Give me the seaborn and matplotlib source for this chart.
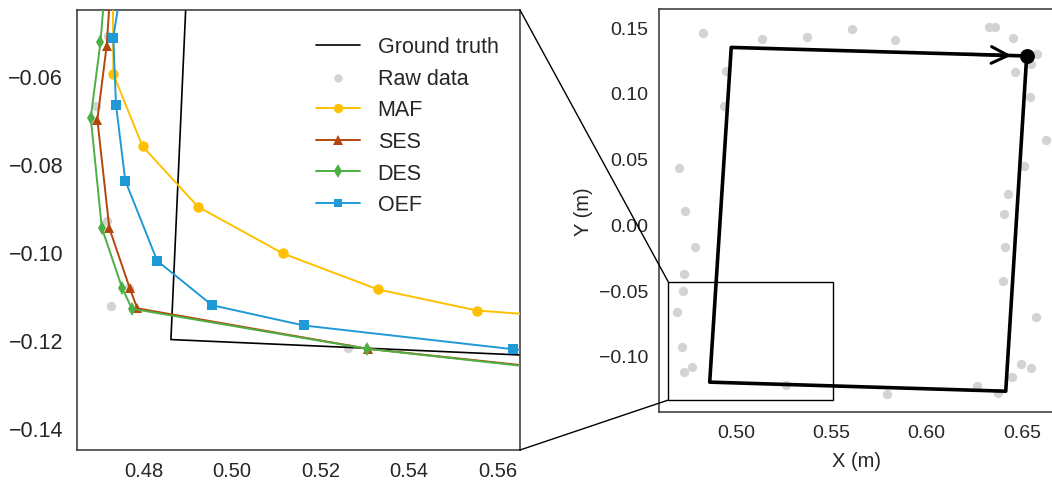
import numpy as np
import pandas as pd
import matplotlib
matplotlib.use("Agg")
import matplotlib.pyplot as plt
from matplotlib.patches import Rectangle, ConnectionPatch
import seaborn as sns

# ---- data -------------------------------------------------------------
# Ground-truth square path (x, y in metres), starting at the top-right corner
gt_x = [0.6525, 0.6415, 0.4862, 0.4975, 0.6525]
gt_y = [0.1280, -0.1268, -0.1199, 0.1345, 0.1280]

# Raw position samples
raw_x = [0.4825, 0.5135, 0.5374, 0.4946, 0.4937, 0.4699, 0.4733, 0.4785,
         0.5608, 0.5832, 0.6328, 0.6360, 0.6454, 0.6577, 0.6547, 0.6465,
         0.6542, 0.6627, 0.6509, 0.6425, 0.6407, 0.6411, 0.4729, 0.4720,
         0.4692, 0.4717, 0.4768, 0.4727, 0.5261, 0.6399, 0.6575, 0.6493,
         0.6550, 0.6449, 0.6264, 0.6376, 0.5792]
raw_y = [0.1454, 0.1409, 0.1422, 0.1166, 0.0897, 0.0426, 0.0104, -0.0174,
         0.1483, 0.1399, 0.1498, 0.1498, 0.1414, 0.1293, 0.1219, 0.1160,
         0.0970, 0.0644, 0.0441, 0.0231, 0.0081, -0.0174, -0.0375, -0.0508,
         -0.0668, -0.0929, -0.1081, -0.1122, -0.1218, -0.0430, -0.0706, -0.1059,
         -0.1091, -0.1160, -0.1228, -0.1279, -0.1289]

# Filtered estimates around the bottom-left corner
maf_x = [0.4731, 0.4732, 0.4798, 0.4923, 0.5114, 0.5329, 0.5553, 0.5780]
maf_y = [-0.0400, -0.0596, -0.0760, -0.0897, -0.1003, -0.1085, -0.1133, -0.1150]

ses_x = [0.4729, 0.4717, 0.4696, 0.4723, 0.4769, 0.4786, 0.5307, 0.5800]
ses_y = [-0.0350, -0.0531, -0.0699, -0.0946, -0.1082, -0.1128, -0.1220, -0.1273]

des_x = [0.4717, 0.4703, 0.4681, 0.4706, 0.4752, 0.4774, 0.5305, 0.5800]
des_y = [-0.0350, -0.0523, -0.0695, -0.0945, -0.1082, -0.1129, -0.1220, -0.1275]

oef_x = [0.4757, 0.4732, 0.4738, 0.4759, 0.4831, 0.4955, 0.5162, 0.5635, 0.5850]
oef_y = [-0.0350, -0.0513, -0.0665, -0.0838, -0.1020, -0.1121, -0.1167, -0.1221, -0.1245]

# Zoomed region marked on the overview
zoom_x = [0.4645, 0.5510]
zoom_y = [-0.1335, -0.0438]

# Tick labels
left_xticks = [0.48, 0.50, 0.52, 0.54, 0.56]
left_yticks = [-0.14, -0.12, -0.10, -0.08, -0.06]
right_xticks = [0.50, 0.55, 0.60, 0.65]
right_yticks = [-0.10, -0.05, 0.00, 0.05, 0.10, 0.15]

# ---- style ------------------------------------------------------------
sns.set_style("white")
plt.rcParams["font.family"] = ["Liberation Sans", "DejaVu Sans"]
plt.rcParams["axes.unicode_minus"] = True
text_col = "#262626"
spine_col = "#333333"

C_MAF = "#FFC000"
C_SES = "#B5460B"
C_DES = "#4DAF44"
C_OEF = "#1F9AD6"
C_RAW = "#D3D3D3"

fig = plt.figure(figsize=(10.52, 4.85), dpi=100)
axL = fig.add_axes([77 / 1052, 34 / 485, 443 / 1052, 440 / 485])
axR = fig.add_axes([659 / 1052, 72 / 485, 394 / 1052, 403 / 485])

# ---- left: zoomed view ------------------------------------------------
sns.lineplot(x=gt_x, y=gt_y, sort=False, estimator=None, color="black",
             lw=1.2, ax=axL, label="Ground truth", zorder=2)
sns.scatterplot(x=raw_x, y=raw_y, color=C_RAW, s=45, linewidth=0, ax=axL,
                label="Raw data", zorder=1)
series = [("MAF", maf_x, maf_y, C_MAF, "o", 7.5),
          ("SES", ses_x, ses_y, C_SES, "^", 7.5),
          ("DES", des_x, des_y, C_DES, "d", 7.5),
          ("OEF", oef_x, oef_y, C_OEF, "s", 7.0)]
for name, xs, ys, col, mk, ms in series:
    sns.lineplot(x=xs, y=ys, sort=False, estimator=None, color=col, lw=1.4,
                 marker=mk, markersize=ms, markeredgewidth=0, ax=axL,
                 label=name, zorder=3)

axL.set_xlim(0.465, 0.565)
axL.set_ylim(-0.145, -0.045)
axL.set_xticks(left_xticks)
axL.set_yticks(left_yticks)
axL.set_xticklabels([f"{v:.2f}" for v in left_xticks])
axL.set_yticklabels([f"{v:.2f}".replace("-", "\u2212") for v in left_yticks])
axL.tick_params(axis="both", length=0, labelcolor=text_col)
axL.tick_params(axis="x", pad=8, labelsize=14.5)
axL.tick_params(axis="y", pad=10, labelsize=15.5)
for sp in axL.spines.values():
    sp.set_visible(True)
    sp.set_color(spine_col)
    sp.set_linewidth(1.1)

leg = axL.legend(loc="upper left", bbox_to_anchor=(0.54, 0.94), frameon=False,
                 fontsize=15.5, handlelength=2.05, handletextpad=0.8,
                 labelspacing=0.49, borderaxespad=0, borderpad=0,
                 markerscale=0.9)
for t in leg.get_texts():
    t.set_color(text_col)

# ---- right: overview --------------------------------------------------
sns.scatterplot(x=raw_x, y=raw_y, color=C_RAW, s=45, linewidth=0, ax=axR,
                zorder=1, legend=False)
sns.lineplot(x=gt_x, y=gt_y, sort=False, estimator=None, color="black",
             lw=2.6, ax=axR, zorder=3, legend=False)
sns.scatterplot(x=gt_x[:1], y=gt_y[:1], color="black", s=115, linewidth=0,
                ax=axR, zorder=4, legend=False)
axR.annotate("", xy=(gt_x[4], gt_y[4]),
             xytext=(gt_x[4] - 0.03, gt_y[4] + 0.03 * (gt_y[3] - gt_y[4]) / (gt_x[4] - gt_x[3])),
             arrowprops=dict(arrowstyle="->", lw=2.2, color="black",
                             shrinkA=0, shrinkB=11, mutation_scale=30),
             zorder=5)

axR.add_patch(Rectangle((zoom_x[0], zoom_y[0]), zoom_x[1] - zoom_x[0],
                        zoom_y[1] - zoom_y[0], fill=False, ec="black",
                        lw=1.0, zorder=2))

axR.set_xlim(0.4596, 0.6663)
axR.set_ylim(-0.1426, 0.1637)
axR.set_xticks(right_xticks)
axR.set_yticks(right_yticks)
axR.set_xticklabels([f"{v:.2f}" for v in right_xticks])
axR.set_yticklabels([f"{v:.2f}".replace("-", "\u2212") for v in right_yticks])
axR.tick_params(axis="both", length=0, labelsize=14, labelcolor=text_col)
axR.tick_params(axis="x", pad=9)
axR.tick_params(axis="y", pad=8)
axR.set_xlabel("X (m)", fontsize=14.5, color=text_col, labelpad=7)
axR.set_ylabel("Y (m)", fontsize=14.5, color=text_col, labelpad=4)
for sp in axR.spines.values():
    sp.set_color(spine_col)
    sp.set_linewidth(1.1)

# connectors from the marked region to the zoomed view
for (xr, yr), (xa, ya) in [((zoom_x[0], zoom_y[1]), (1, 1)),
                           ((zoom_x[0], zoom_y[0]), (1, 0))]:
    con = ConnectionPatch(xyA=(xr, yr), coordsA=axR.transData,
                          xyB=(xa, ya), coordsB=axL.transAxes,
                          color="black", lw=1.0)
    fig.add_artist(con)

fig.savefig("out.png", dpi=100)
